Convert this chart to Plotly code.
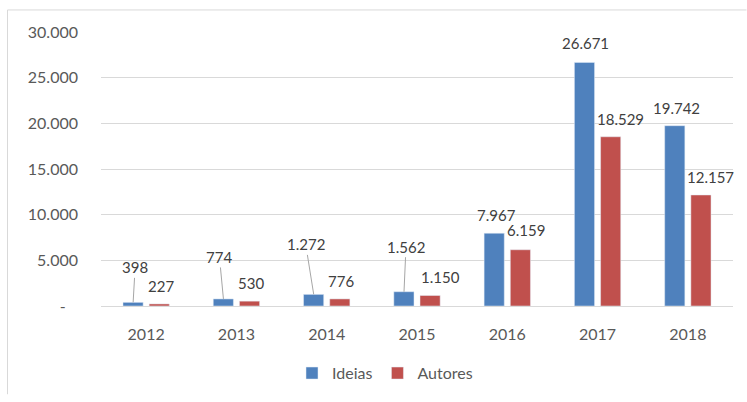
import plotly.graph_objects as go

years = ["2012", "2013", "2014", "2015", "2016", "2017", "2018"]
ideias = [398, 774, 1272, 1562, 7967, 26671, 19742]
autores = [227, 530, 776, 1150, 6159, 18529, 12157]
y_ticks = [0, 5000, 10000, 15000, 20000, 25000, 30000]

# label offsets in pixels (dx, dy) relative to bar top; leader = draw a leader line
ideias_off = [(2, -35, True), (-4, -42, True), (-8, -50, True), (2, -45, True),
              (2, -18, False), (1, -19, False), (2, -18, False)]
autores_off = [(2, -18, False), (2, -18, False), (1, -18, False), (10, -19, False),
               (6, -20, False), (10, -18, False), (10, -18, False)]

BLUE = "#4F81BD"
RED = "#C0504D"
FONT = "Lato"

W, H = 747, 402
ML, MR, MT, MB = 101, 14, 32, 90.5
PW, PH = W - ML - MR, H - MT - MB


def fmt(v):
    return "-" if v == 0 else f"{v:,}".replace(",", ".")


def px_x(p):
    return (p - ML) / PW


def px_y(p):
    return (H - MB - p) / PH


fig = go.Figure()
fig.add_trace(go.Bar(name="Ideias", x=years, y=ideias, marker_color=BLUE))
fig.add_trace(go.Bar(name="Autores", x=years, y=autores, marker_color=RED))

annotations = []
for vals, offs, shift in ((ideias, ideias_off, -13), (autores, autores_off, 13)):
    for i, (v, (dx, dy, leader)) in enumerate(zip(vals, offs)):
        if leader:
            annotations.append(dict(
                x=i, y=v, xref="x", yref="y", xshift=shift,
                text=fmt(v), showarrow=True, arrowhead=0, arrowwidth=1,
                arrowcolor="#A6A6A6", ax=dx, ay=dy, standoff=0,
                font=dict(family=FONT, size=15, color="#404040"),
            ))
        else:
            annotations.append(dict(
                x=i, y=v, xref="x", yref="y", xshift=shift + dx, yshift=-dy,
                text=fmt(v), showarrow=False, yanchor="middle", xanchor="center",
                font=dict(family=FONT, size=15, color="#404040"),
            ))

border = dict(color="#D9D9D9", width=1)
fig.update_layout(
    width=W, height=H,
    margin=dict(l=ML, r=MR, t=MT, b=MB),
    paper_bgcolor="white", plot_bgcolor="white",
    barmode="group", bargap=0.42, bargroupgap=0.23,
    font=dict(family=FONT, size=16, color="#595959"),
    showlegend=True,
    legend=dict(orientation="h", x=px_x(385), xanchor="center", y=px_y(380),
                yanchor="middle", font=dict(family=FONT, size=16, color="#595959"),
                itemwidth=30, traceorder="normal"),
    annotations=annotations,
    shapes=[
        dict(type="line", xref="paper", yref="paper",
             x0=px_x(7.5), x1=px_x(7.5), y0=px_y(401.5), y1=px_y(9.5),
             line=border, layer="below"),
        dict(type="line", xref="paper", yref="paper",
             x0=px_x(7.5), x1=px_x(746.5), y0=px_y(9.5), y1=px_y(9.5),
             line=border, layer="below"),
    ],
)
fig.update_xaxes(type="category", range=[-0.5, len(years) - 0.5], showgrid=False,
                 showline=True, linecolor="#D9D9D9",
                 linewidth=1, ticks="", ticklabelstandoff=14,
                 tickfont=dict(family=FONT, size=16, color="#595959"))
fig.update_yaxes(range=[0, 30000], tickvals=y_ticks,
                 ticktext=[fmt(t) + ("\u00a0\u00a0\u00a0" if t == 0 else "") for t in y_ticks],
                 showgrid=True, gridcolor="#D9D9D9", gridwidth=1, zeroline=False,
                 ticks="", ticklabelstandoff=22, showline=False,
                 tickfont=dict(family=FONT, size=16, color="#595959"))

post = (
    "document.documentElement.style.margin='0';"
    "document.documentElement.style.overflow='hidden';"
    "document.body.style.margin='0';"
    "document.body.style.overflow='hidden';"
    "document.body.style.lineHeight='0';"
    "var gd=document.getElementById('{plot_id}');"
    "gd.style.overflow='hidden';gd.style.lineHeight='0';"
)
fig.write_html("out.html", config={"displayModeBar": False}, post_script=post)
